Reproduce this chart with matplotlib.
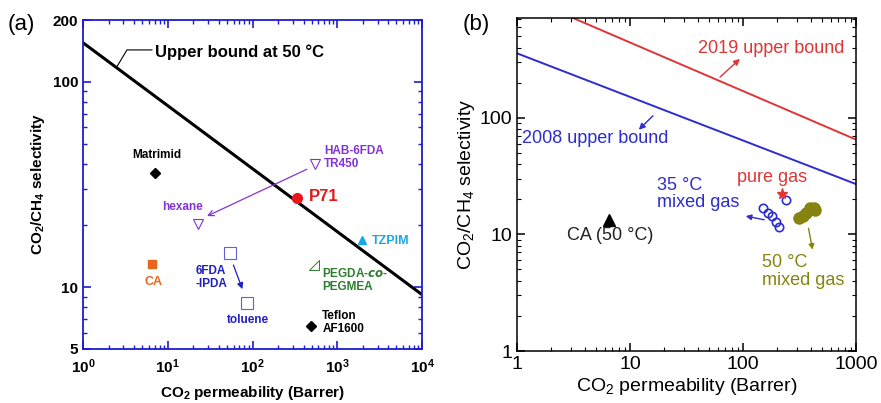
import numpy as np
import matplotlib
matplotlib.use("Agg")
import matplotlib.pyplot as plt
from matplotlib.path import Path as MPath
from matplotlib.ticker import FixedLocator, FixedFormatter, LogLocator, NullFormatter

plt.rcParams["font.family"] = ["Liberation Sans", "DejaVu Sans"]
plt.rcParams["mathtext.fontset"] = "custom"
plt.rcParams["mathtext.rm"] = "Liberation Sans"
plt.rcParams["mathtext.it"] = "Liberation Sans:italic"
plt.rcParams["mathtext.bf"] = "Liberation Sans:bold"

# ---- panel (a) data ----
bound_a_x = [1, 1e4]
bound_a_y = [155, 9.2]

matrimid = (7.0, 36)
p71 = (339, 27.2)
hab_tr450 = (550, 39.8)
hab_hexane = (22.5, 20.3)
tzpim = (1960, 16.9)
ca_a = (6.5, 12.9)
ipda = (55, 14.7)
ipda_toluene = (85, 8.4)
pegda = (537, 12.8)
teflon = (493, 6.46)

a_yticks = [5, 10, 100, 200]
a_xticks = [1, 10, 100, 1000, 10000]
a_xlabels = [r"$\mathbf{10^{0}}$", r"$\mathbf{10^{1}}$", r"$\mathbf{10^{2}}$",
             r"$\mathbf{10^{3}}$", r"$\mathbf{10^{4}}$"]

# ---- panel (b) data ----
bound_2008_x = [1, 1000]
bound_2008_y = [357, 27.0]
bound_2019_x = [1, 1000]
bound_2019_y = [1153, 65]

ca_b = (6.5, 13.4)
pure_gas = (221, 22.4)
mixed35_x = [240, 150, 166, 181, 196, 209]
mixed35_y = [19.9, 16.7, 15.4, 14.3, 12.7, 11.5]
mixed50_x = [313, 339, 361, 391, 425, 433]
mixed50_y = [13.7, 14.5, 15.4, 16.7, 17.0, 16.1]

b_ticks = [1, 10, 100, 1000]

BLUE_AX = "#1c1cd0"
PURPLE = "#8233d6"
RED = "#e8161b"
CYAN = "#1aa7e6"
ORANGE = "#e8661e"
DBLUE = "#2020c0"
GREEN = "#2e7d2e"
OLIVE = "#858410"
RED_B = "#e03535"
BLUE_B = "#2c2cd0"

fig = plt.figure(figsize=(8.81, 4.03), dpi=100)

# ================= (a) =================
ax = fig.add_axes([83 / 881, 54 / 403, 339 / 881, 329 / 403])
ax.set_xscale("log")
ax.set_yscale("log")
ax.set_xlim(1, 1e4)
ax.set_ylim(5, 200)

ax.plot(bound_a_x, bound_a_y, color="black", lw=2.2)
# leader line for the bound label
ax.plot([2.5, 3.3, 6.5], [118, 143, 143], color="black", lw=0.8)
ax.text(7.0, 140, "Upper bound at 50 °C", fontsize=12, fontweight="bold", va="center")

ax.plot(*matrimid, marker="D", color="black", ms=5)
ax.text(7.4, 44, "Matrimid", fontsize=8.5, fontweight="bold", ha="center", va="center")

ax.plot(*p71, marker="o", color=RED, ms=7)
ax.text(468, 27.5, "P71", fontsize=12, fontweight="bold", color=RED, va="center")

ax.plot(*hab_tr450, marker="v", mfc="none", mec=PURPLE, ms=7, mew=0.8)
ax.plot(*hab_hexane, marker="v", mfc="none", mec=PURPLE, ms=7, mew=0.8)
ax.text(703, 42.6, "HAB-6FDA\nTR450", fontsize=8.5, fontweight="bold", color=PURPLE,
        va="center", linespacing=1.1)
ax.annotate("", xy=(27.2, 21.9), xytext=(468, 38),
            arrowprops=dict(arrowstyle="->", color=PURPLE, lw=0.9))
ax.text(15, 24.6, "hexane", fontsize=8.5, fontweight="bold", color=PURPLE,
        ha="center", va="center")

ax.plot(*tzpim, marker="^", color=CYAN, ms=6)
ax.text(2580, 16.8, "TZPIM", fontsize=9, fontweight="bold", color=CYAN, va="center")

ax.plot(*ca_a, marker="s", color=ORANGE, ms=6)
ax.text(6.85, 10.6, "CA", fontsize=9, fontweight="bold", color=ORANGE, ha="center", va="center")

ax.plot(*ipda, marker="s", mfc="none", mec="#6060d8", ms=8, mew=0.8)
ax.plot(*ipda_toluene, marker="s", mfc="none", mec="#6060d8", ms=8, mew=0.8)
ax.annotate("", xy=(78, 9.5), xytext=(58, 13.2),
            arrowprops=dict(arrowstyle="-|>", color=DBLUE, lw=0.9, mutation_scale=9))
ax.text(21.3, 11.1, "6FDA\n-IPDA", fontsize=8.5, fontweight="bold", color=DBLUE,
        va="center", linespacing=1.1)
ax.text(87.5, 6.9, "toluene", fontsize=8.5, fontweight="bold", color=DBLUE,
        ha="center", va="center")

rtri = MPath([(1, 1), (1, -1), (-1, -1), (1, 1)],
             [MPath.MOVETO, MPath.LINETO, MPath.LINETO, MPath.CLOSEPOLY])
ax.plot(*pegda, marker=rtri, mfc="none", mec=GREEN, ms=7, mew=0.7)
ax.text(665, 10.8, "PEGDA-$\\mathbfit{co}$-\nPEGMEA", fontsize=8.5, fontweight="bold",
        color=GREEN, va="center", linespacing=1.1)

ax.plot(*teflon, marker="D", color="black", ms=5)
ax.text(665, 6.75, "Teflon\nAF1600", fontsize=8.5, fontweight="bold", va="center",
        linespacing=1.1)

ax.yaxis.set_major_locator(FixedLocator(a_yticks))
ax.yaxis.set_major_formatter(FixedFormatter([str(t) for t in a_yticks]))
ax.yaxis.set_minor_locator(LogLocator(base=10, subs=np.arange(2, 10)))
ax.yaxis.set_minor_formatter(NullFormatter())
ax.xaxis.set_major_locator(FixedLocator(a_xticks))
ax.xaxis.set_major_formatter(FixedFormatter(a_xlabels))
ax.xaxis.set_minor_locator(LogLocator(base=10, subs=np.arange(2, 10)))
ax.xaxis.set_minor_formatter(NullFormatter())
for s in ax.spines.values():
    s.set_color(BLUE_AX)
    s.set_linewidth(1.3)
ax.tick_params(which="both", direction="in", top=True, right=True, color=BLUE_AX)
ax.tick_params(which="major", length=6, width=1.2, labelsize=11)
ax.tick_params(which="minor", length=3, width=1.0)
ax.tick_params(axis="x", which="major", pad=6)
for lab in ax.get_yticklabels():
    lab.set_fontweight("bold")
ax.set_xlabel(r"$\mathbf{CO_2}$ permeability (Barrer)", fontsize=11, fontweight="bold", labelpad=6)
ax.set_ylabel(r"$\mathbf{CO_2/CH_4}$ selectivity", fontsize=11, fontweight="bold", labelpad=4)
fig.text(0.009, 0.94, "(a)", fontsize=16, va="center")

# ================= (b) =================
bx = fig.add_axes([517 / 881, 52 / 403, 339 / 881, 333 / 403])
bx.set_xscale("log")
bx.set_yscale("log")
bx.set_xlim(1, 1000)
bx.set_ylim(1, 717)

bx.plot(bound_2019_x, bound_2019_y, color=RED_B, lw=1.4)
bx.plot(bound_2008_x, bound_2008_y, color=BLUE_B, lw=1.4)
bx.text(40, 389, "2019 upper bound", fontsize=13, color=RED_B, va="center")
bx.annotate("", xy=(98, 332), xytext=(60, 215),
            arrowprops=dict(arrowstyle="-|>", color=RED_B, lw=1.0, mutation_scale=9))
bx.text(1.1, 66, "2008 upper bound", fontsize=13, color=BLUE_B, va="center")
bx.annotate("", xy=(11.5, 76), xytext=(16.6, 108),
            arrowprops=dict(arrowstyle="-|>", color=BLUE_B, lw=1.0, mutation_scale=9))

bx.plot(*ca_b, marker="^", color="black", ms=8)
bx.text(2.77, 9.8, "CA (50 °C)", fontsize=13, color="#222222", va="center")

bx.plot(mixed35_x, mixed35_y, ls="none", marker="o", mfc="none", mec=BLUE_B, ms=6, mew=1.2)
bx.plot(*pure_gas, marker="*", color=RED_B, ms=8)
bx.plot(mixed50_x, mixed50_y, ls="none", marker="o", color=OLIVE, ms=8)

bx.text(88.5, 30.7, "pure gas", fontsize=13, color=RED_B, va="center")
bx.text(17.3, 22.2, "35 °C\nmixed gas", fontsize=13, color=BLUE_B, va="center",
        linespacing=1.05)
bx.annotate("", xy=(100, 14.5), xytext=(163, 13.2),
            arrowprops=dict(arrowstyle="-|>", color=BLUE_B, lw=1.0, mutation_scale=8))
bx.annotate("", xy=(417, 7.0), xytext=(376, 11.9),
            arrowprops=dict(arrowstyle="-|>", color=OLIVE, lw=1.0, mutation_scale=8))
bx.text(147, 4.83, "50 °C\nmixed gas", fontsize=13, color=OLIVE, va="center",
        linespacing=1.05)

bx.xaxis.set_major_locator(FixedLocator(b_ticks))
bx.xaxis.set_major_formatter(FixedFormatter([str(t) for t in b_ticks]))
bx.yaxis.set_major_locator(FixedLocator(b_ticks[:3]))
bx.yaxis.set_major_formatter(FixedFormatter([str(t) for t in b_ticks[:3]]))
bx.xaxis.set_minor_locator(LogLocator(base=10, subs=np.arange(2, 10)))
bx.yaxis.set_minor_locator(LogLocator(base=10, subs=np.arange(2, 10)))
bx.xaxis.set_minor_formatter(NullFormatter())
bx.yaxis.set_minor_formatter(NullFormatter())
for s in bx.spines.values():
    s.set_linewidth(1.1)
bx.tick_params(which="both", direction="in", top=True, right=True)
bx.tick_params(which="major", length=6, width=1.1, labelsize=14)
bx.tick_params(which="minor", length=3, width=0.8)
bx.set_xlabel("CO$_2$ permeability (Barrer)", fontsize=14, labelpad=2)
bx.set_ylabel("CO$_2$/CH$_4$ selectivity", fontsize=14, labelpad=2)
fig.text(0.525, 0.938, "(b)", fontsize=16, va="center")

fig.savefig("out.png", dpi=100)
